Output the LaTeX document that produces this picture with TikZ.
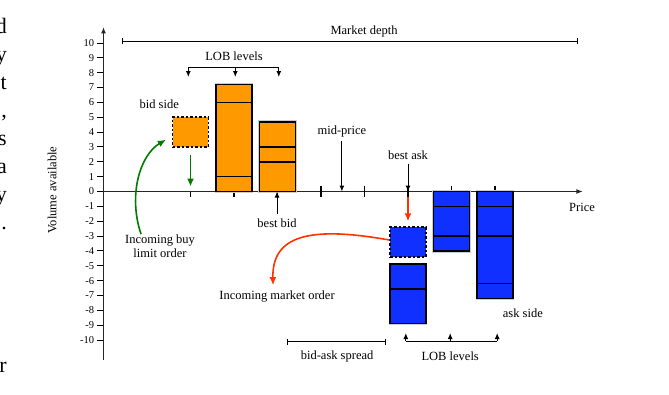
\documentclass[tikz,border=0pt]{standalone}
\usepackage{fontspec}
\setmainfont{Liberation Serif}
\usetikzlibrary{arrows.meta,positioning,calc}
\definecolor{bidorange}{RGB}{255,153,  0}
\definecolor{askblue}  {RGB}{ 16, 48,255}
\definecolor{buygreen} {RGB}{  0,122,  0}
\definecolor{mktred}   {RGB}{255, 51,  0}
\newcommand{\lblfont}{\fontsize{12.5}{14.5}\selectfont}
\newcommand{\tickfont}{\fontsize{10.5}{12}\selectfont}
\newcommand{\pagefont}{\fontsize{22}{24}\selectfont}

\begin{document}
\begin{tikzpicture}[x=43.5pt, y=14.85pt,
  every node/.style={font=\lblfont, inner sep=1pt},
  tip/.style={-{Latex[length=6pt,width=5pt]}, line width=1pt},
  flow/.style={-{Latex[length=8pt,width=7pt]}, line width=1.6pt},
  axis/.style={-{Latex[length=6.5pt,width=5pt]}, line width=1.4pt, black!85},
  bar/.style={draw=black, line width=1.6pt},
  halo/.style={preaction={draw=black!20, line width=3.2pt}},
  newbox/.style={bar, dash pattern=on 2.5pt off 2pt,
                 minimum width=35.7pt, minimum height=29.7pt, inner sep=0pt},
  span/.style={{Bar[width=6pt]}-{Bar[width=6pt]}, line width=1pt}]

\useasboundingbox (-103.5pt,191.5pt) rectangle (565.5pt,-202.5pt);

% line ends of the surrounding page text
\foreach \gl/\gy in {d/158.5, y/130.5, t/102.5, {,}/74.5, s/46.5,
                     a/18.5, y/-9.5, ./-37.5, r/-180.5}
  \node[anchor=base east, font=\pagefont, inner sep=0pt] at (-96.5pt,\gy pt) {\gl};

% axes
\draw[axis] (0,-11.35) -- (0,11.08) coordinate (ytop);
\draw[axis] (0,0) coordinate (orig) -- (11.02,0) coordinate (xend);
\node (price) at (11.0,-1.04) {Price};
\node[rotate=90] (vol) at (-1.18,0.1) {Volume available};

\foreach \v in {-10,...,10} {
  \draw[line width=1pt] (-0.15,\v) -- (0,\v);
  \node[anchor=east, font=\tickfont] at (-0.19,\v) {\v};
}
\draw[line width=1.2pt] (2,0) -- (2,-0.4);
\foreach \k in {3,...,9}
  \draw[line width=1.2pt] (\k,0.4) -- (\k,-0.4);

% bid side
\draw[bar, halo, fill=bidorange] (2.59,0) rectangle (3.41,7.2);
\foreach \v in {1,6} \draw[bar] (2.59,\v) -- (3.41,\v);
\draw[bar, halo, fill=bidorange] (3.59,0) rectangle (4.41,4.7);
\foreach \v in {2,3} \draw[bar] (3.59,\v) -- (4.41,\v);
\node[newbox, fill=bidorange] (newbid) at (2,4) {};

% ask side
\node[newbox, fill=askblue] (newask) at (7,-3.4) {};
\draw[bar, halo, fill=askblue] (6.59,-4.9) rectangle (7.41,-8.9);
\draw[bar] (6.59,-6.55) -- (7.41,-6.55);
\draw[bar, halo, fill=askblue] (7.59,0) rectangle (8.41,-4);
\foreach \v in {-1,-3} \draw[bar] (7.59,\v) -- (8.41,\v);
\draw[bar, halo, fill=askblue] (8.59,0) rectangle (9.41,-7.2);
\foreach \v in {-1,-3,-6.2} \draw[bar] (8.59,\v) -- (9.41,\v);

% labels
\node (depth)   at (5.99,10.8)   {Market depth};
\node (lobtop)  at (3,9.12)      {LOB levels};
\node (bidside) at (1.28,5.89)   {bid side};
\node (mid)     at (5.48,4.07)   {mid-price};
\node (bestask) at (7,2.46)      {best ask};
\node (bestbid) at (3.99,-2.12)  {best bid};
\node[align=center] (buy) at (1.30,-3.67) {Incoming buy\\limit order};
\node (mkt)     at (3.99,-7.04)  {Incoming market order};
\node (askside) at (9.64,-8.18)  {ask side};
\node (lobbot)  at (7.97,-11.08) {LOB levels};
\node (spread)  at (5.37,-11.08) {bid-ask spread};

% spans and brackets
\coordinate (depthL) at (0.425,10.13);
\coordinate (depthR) at (10.91,10.13);
\draw[span] (depthL) -- (depthR);
\coordinate (spreadL) at (4.22,-10.13);
\coordinate (spreadR) at (6.49,-10.13);
\draw[span] (spreadL) -- (spreadR);

\draw[line width=1pt] (1.95,8.32) -- (4.03,8.32);
\foreach \k in {1.95,3.03,4.03} \draw[tip] (\k,8.32) -- (\k,7.71);
\draw[line width=1pt] (6.95,-10.07) -- (9.05,-10.07);
\foreach \k in {6.95,7.97,9.05} \draw[tip] (\k,-10.07) -- (\k,-9.53);

% pointers to the price axis
\draw[tip] ([yshift=-3pt]mid.south) -- (mid.south |- orig);
\draw[tip] ([yshift=-3pt]bestask.south) -- (bestask.south |- orig);
\draw[tip] ([yshift=3pt]bestbid.north) -- (bestbid.north |- orig);

% incoming orders
\draw[flow, buygreen] ([yshift=-7pt]newbid.south) -- ([yshift=5pt]newbid.south |- orig);
\draw[flow, buygreen]
  ([xshift=-19pt,yshift=-1pt]buy.north) .. controls (0.56,-0.24) and (0.84,2.46) ..
  ([xshift=-6pt,yshift=8pt]newbid.south west);
\draw[flow, mktred] ([yshift=-5pt]newask.north |- orig) -- ([yshift=5pt]newask.north);
\draw[flow, mktred]
  ([yshift=2pt]newask.west) .. controls (4.75,-2.32) and (3.87,-2.93) ..
  ([xshift=-4pt,yshift=4pt]mkt.north);

\end{tikzpicture}
\end{document}
